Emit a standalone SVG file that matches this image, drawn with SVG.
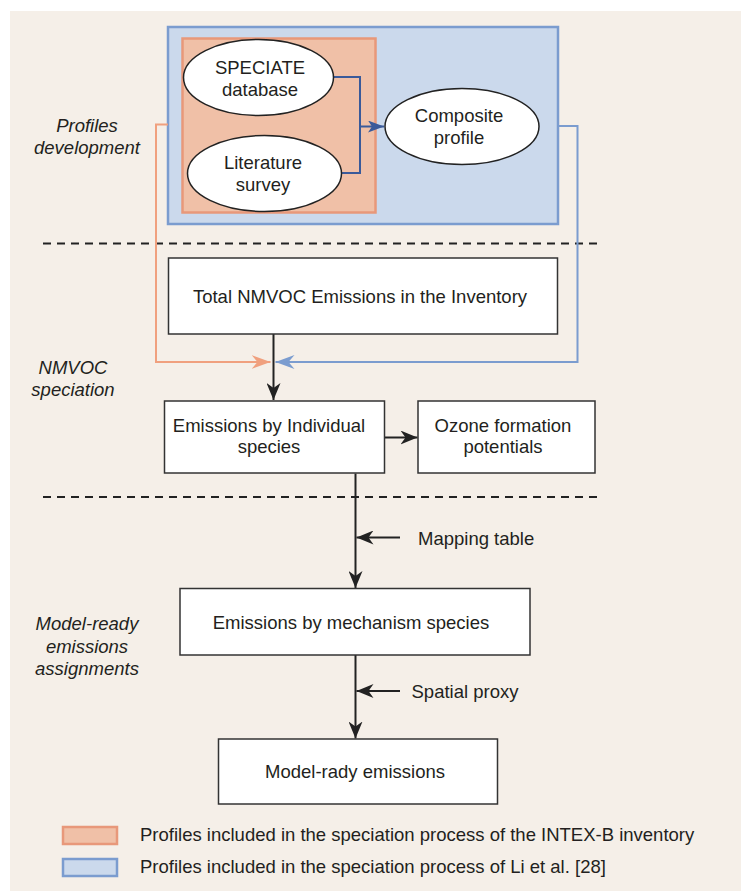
<svg xmlns="http://www.w3.org/2000/svg" width="741" height="891" viewBox="0 0 741 891">
<style>
text{font-family:"Liberation Sans",Arial,sans-serif;font-size:18.5px;fill:#231f20;text-anchor:middle}
.lbl{font-style:italic}
.leg{text-anchor:start}
.box{fill:#fff;stroke:#333;stroke-width:1.5}
.ell{fill:#fff;stroke:#222;stroke-width:1.5}
.ln{fill:none;stroke:#222;stroke-width:2}
.dash{fill:none;stroke:#222;stroke-width:2.2;stroke-dasharray:8 6}
</style>
<defs>
<marker id="ab" markerUnits="userSpaceOnUse" markerWidth="18" markerHeight="14" refX="17" refY="7" orient="auto"><path d="M0,0 L17,7 L0,14 L5,7 z" fill="#222"/></marker>
<marker id="ao" markerUnits="userSpaceOnUse" markerWidth="20" markerHeight="14" refX="19" refY="7" orient="auto"><path d="M0,0 L19,7 L0,14 L6,7 z" fill="#f0a07e"/></marker>
<marker id="al" markerUnits="userSpaceOnUse" markerWidth="20" markerHeight="14" refX="19" refY="7" orient="auto"><path d="M0,0 L19,7 L0,14 L6,7 z" fill="#7b9ccf"/></marker>
<marker id="ad" markerUnits="userSpaceOnUse" markerWidth="16" markerHeight="12" refX="16" refY="6" orient="auto"><path d="M0,0 L16,6 L0,12 L4,6 z" fill="#3a5a9a"/></marker>
</defs>
<rect x="10" y="11" width="731" height="880" fill="#f5efe8"/>
<g id="group-li">
<rect x="168" y="27" width="390" height="197" fill="#cbd9ec" stroke="#7b9ccf" stroke-width="2.5"/>
</g>
<g id="group-intex">
<rect x="182.5" y="38.5" width="193" height="174" fill="#f0c0a7" stroke="#e8987a" stroke-width="2.5"/>
</g>
<g id="labels">
<text class="lbl" x="87" y="132">Profiles</text>
<text class="lbl" x="87" y="154">development</text>
<text class="lbl" x="73" y="374">NMVOC</text>
<text class="lbl" x="73" y="396">speciation</text>
<text class="lbl" x="87" y="630">Model-ready</text>
<text class="lbl" x="87" y="653">emissions</text>
<text class="lbl" x="87" y="675">assignments</text>
</g>
<g id="dividers">
<line class="dash" x1="43" y1="243.5" x2="600" y2="243.5"/>
<line class="dash" x1="43" y1="497" x2="600" y2="497"/>
</g>
<g id="connectors">
<polyline fill="none" stroke="#3a5a9a" stroke-width="2" points="333,77 360,77 360,173 341.5,173"/>
<line x1="360" y1="126.5" x2="384" y2="126.5" stroke="#3a5a9a" stroke-width="2" marker-end="url(#ad)"/>
<polyline fill="none" stroke="#f0a07e" stroke-width="2" points="168,124.5 156,124.5 156,362 270.5,362" marker-end="url(#ao)"/>
<polyline fill="none" stroke="#7b9ccf" stroke-width="2" points="558,126 577.5,126 577.5,362 275.5,362" marker-end="url(#al)"/>
<line class="ln" x1="273.5" y1="334" x2="273.5" y2="400" marker-end="url(#ab)"/>
<line class="ln" x1="384.5" y1="437.5" x2="417.5" y2="437.5" marker-end="url(#ab)"/>
<line class="ln" x1="355.5" y1="473.5" x2="355.5" y2="588" marker-end="url(#ab)"/>
<line class="ln" x1="400" y1="537.5" x2="356.5" y2="537.5" marker-end="url(#ab)"/>
<line class="ln" x1="355.5" y1="655" x2="355.5" y2="738.5" marker-end="url(#ab)"/>
<line class="ln" x1="400" y1="691" x2="356.5" y2="691" marker-end="url(#ab)"/>
</g>
<g id="speciate">
<ellipse class="ell" cx="258.5" cy="77.5" rx="75" ry="38"/>
<text x="260" y="73.5">SPECIATE</text>
<text x="260" y="95.5">database</text>
</g>
<g id="literature">
<ellipse class="ell" cx="264.5" cy="173.5" rx="77" ry="38"/>
<text x="263" y="168.5">Literature</text>
<text x="263" y="190.5">survey</text>
</g>
<g id="composite">
<ellipse class="ell" cx="462" cy="126.5" rx="77" ry="38"/>
<text x="459" y="122">Composite</text>
<text x="459" y="143.5">profile</text>
</g>
<g id="total">
<rect class="box" x="168.5" y="258" width="389" height="76"/>
<text x="360" y="303">Total NMVOC Emissions in the Inventory</text>
</g>
<g id="individual">
<rect class="box" x="164.5" y="401" width="220" height="72"/>
<text x="269" y="431.5">Emissions by Individual</text>
<text x="269" y="453">species</text>
</g>
<g id="ozone">
<rect class="box" x="418" y="401" width="177" height="72"/>
<text x="503" y="431.5">Ozone formation</text>
<text x="503" y="453">potentials</text>
</g>
<g id="mapping">
<text class="leg" x="418" y="545">Mapping table</text>
</g>
<g id="mechanism">
<rect class="box" x="180" y="588.5" width="350" height="66.5"/>
<text x="351" y="629">Emissions by mechanism species</text>
</g>
<g id="proxy">
<text class="leg" x="411.5" y="698">Spatial proxy</text>
</g>
<g id="modelready">
<rect class="box" x="218.5" y="739" width="279" height="65"/>
<text x="355" y="778">Model-rady emissions</text>
</g>
<g id="legend">
<rect x="63" y="827" width="54" height="17" fill="#f0c0a7" stroke="#e8987a" stroke-width="2.5"/>
<rect x="63" y="859" width="54" height="17" fill="#cbd9ec" stroke="#7b9ccf" stroke-width="2.5"/>
<text class="leg" x="140" y="841">Profiles included in the speciation process of the INTEX-B inventory</text>
<text class="leg" x="140" y="873">Profiles included in the speciation process of Li et al. [28]</text>
</g>
</svg>
